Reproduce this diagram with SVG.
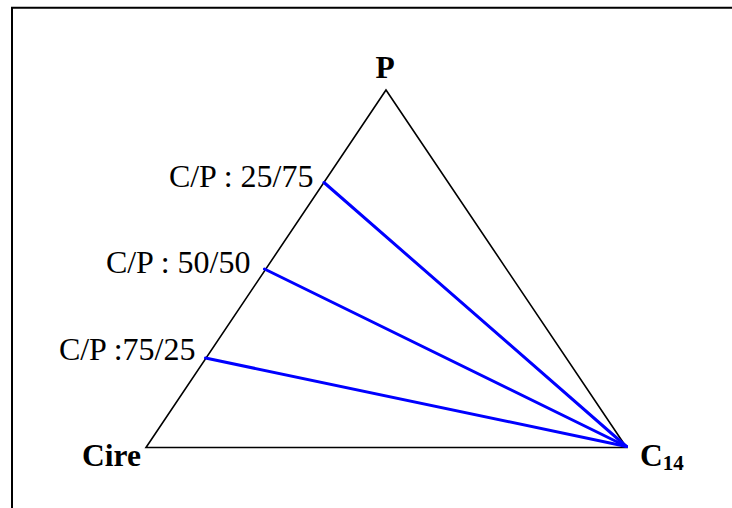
<svg xmlns="http://www.w3.org/2000/svg" width="732" height="508" viewBox="0 0 732 508">
<style>
.frame{fill:none;stroke:#000;stroke-width:2}
.edge{fill:none;stroke:#000;stroke-width:1.6;stroke-linejoin:miter}
.tie{stroke:#0000ff;stroke-width:3;stroke-linecap:round}
.vlab{font-family:"Liberation Serif","Times New Roman",serif;font-weight:bold;font-size:31.5px;fill:#000}
.lab{font-family:"Liberation Serif","Times New Roman",serif;font-size:32px;fill:#000}
</style>
<rect width="732" height="508" fill="#fff"/>
<path class="frame" d="M12,508 V7.7 H740"/>
<g id="triangle">
<path class="edge" d="M386,90 L146,447.5 L626.5,447.5 Z"/>
</g>
<g id="connectors">
<line class="tie" x1="324" y1="182.5" x2="626.5" y2="446.5"/>
<line class="tie" x1="264.5" y1="269" x2="626.5" y2="446.5"/>
<line class="tie" x1="205.5" y1="358" x2="626.5" y2="446.5"/>
</g>
<g id="node-P"><text class="vlab" x="385" y="78" text-anchor="middle">P</text></g>
<g id="node-Cire"><text class="vlab" x="82" y="465.5">Cire</text></g>
<g id="node-C14"><text class="vlab" x="640" y="465.5">C<tspan font-size="21" dy="4.5">14</tspan></text></g>
<g id="label-25-75"><text class="lab" x="313.5" y="187" text-anchor="end">C/P : 25/75</text></g>
<g id="label-50-50"><text class="lab" x="250.5" y="273" text-anchor="end">C/P : 50/50</text></g>
<g id="label-75-25"><text class="lab" x="195.5" y="359.5" text-anchor="end">C/P :75/25</text></g>
</svg>
